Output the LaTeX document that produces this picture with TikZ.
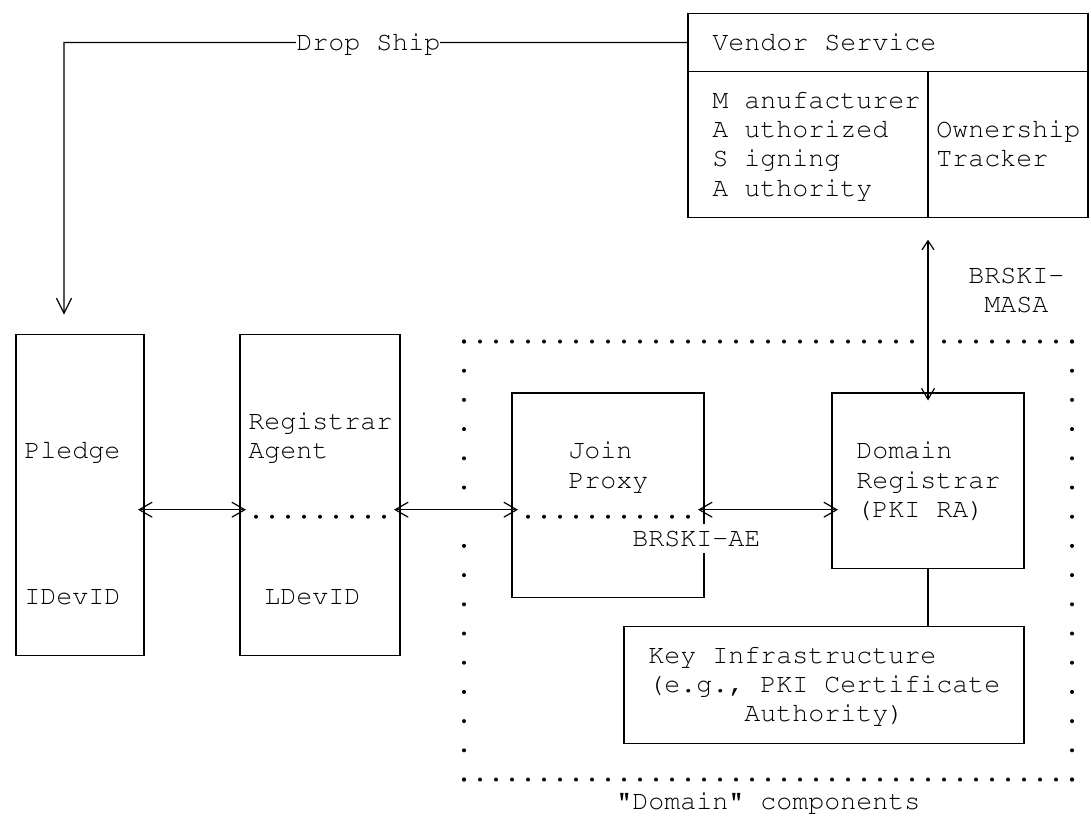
\documentclass[tikz,border=0pt]{standalone}
\usepackage[T1]{fontenc}
\usepackage{tikz}
\usetikzlibrary{arrows.meta}
\newcommand{\cfont}{\fontencoding{T1}\fontfamily{pcr}\fontseries{m}\fontshape{n}\fontsize{13.333pt}{14.6pt}\selectfont\frenchspacing}
\tikzstyle{boite} = [rectangle, draw=black, line width=0.6pt, inner sep=0pt, outer sep=0pt, anchor=north west]
\tikzstyle{mot} = [anchor=base west, inner sep=0pt, font=\cfont]
\tikzstyle{trait} = [draw=black, line width=0.6pt]
\tikzstyle{echange} = [trait, >={Straight Barb[length=6.5pt,width=7.5pt]}, <->, shorten <=-3pt, shorten >=-3pt]
\tikzstyle{pointsh} = [line width=2pt, line cap=round, dash pattern=on 0pt off 8pt]
\tikzstyle{pointsv} = [line width=2pt, line cap=round, dash pattern=on 0pt off 14.6pt]

\begin{document}
\begin{tikzpicture}[x=8pt, y=-14.6pt]
        \useasboundingbox (-1,-0.4555) rectangle (67.1875,27.558);

        % vendor service
        \node (vendor) [boite, minimum width=200pt, minimum height=29.2pt] at (42,0) {};
        \node (masa) [boite, minimum width=120pt, minimum height=73pt] at (42,2) {};
        \node (tracker) [boite, minimum width=80pt, minimum height=73pt] at (57,2) {};

        % pledge and registrar agent
        \node (pledge) [boite, minimum width=64pt, minimum height=160.6pt] at (0,11) {};
        \node (agent) [boite, minimum width=80pt, minimum height=160.6pt] at (14,11) {};

        % domain components
        \node (join) [boite, minimum width=96pt, minimum height=102.2pt] at (31,13) {};
        \node (registrar) [boite, minimum width=96pt, minimum height=87.6pt] at (51,13) {};
        \node (keyinfra) [boite, minimum width=200pt, minimum height=58.4pt] at (38,21) {};

        \draw[pointsh] (28,11.24) -- (56.05,11.24);
        \draw[pointsh] (58,11.24) -- (66.05,11.24);
        \draw[pointsh] (28,26.24) -- (66.05,26.24);
        \draw[pointsv] (28,11.24) -- (28,16.26);
        \draw[pointsv] (28,18.24) -- (28,26.26);
        \draw[pointsv] (66,11.24) -- (66,26.26);

        \coordinate (coude) at (3,1);
        \coordinate (bus) at (0,17);
        \coordinate (pts) at (0,17.24);

        \draw[trait, -{Straight Barb[length=7.5pt,width=7.5pt]}, shorten >=10pt] (vendor.west) -- (coude) -- (coude |- pledge.north);
        \draw[trait, {Straight Barb[length=4.5pt,width=6pt]}-{Straight Barb[length=5.5pt,width=6.5pt]}, shorten <=11pt, shorten >=-3.8pt] (masa.south east) -- (registrar.north);

        \draw[echange] (pledge.east |- bus) -- (agent.west |- bus);
        \draw[echange] (agent.east |- bus) -- (join.west |- bus);
        \draw[echange] (join.east |- bus) -- (registrar.west |- bus);
        \draw[pointsh, shorten <=8pt, shorten >=7.9pt] (agent.west |- pts) -- (agent.east |- pts);
        \draw[pointsh, shorten <=8pt, shorten >=7.9pt] (join.west |- pts) -- (join.east |- pts);
        \draw[trait] (registrar.south) -- (registrar.south |- keyinfra.north);

        % texts
        \node (dropship) [mot, fill=white] at (17.5,1.26) {Drop Ship};
        \node (vendorlbl) [mot] at (43.5,1.26) {Vendor Service};
        \node (masa1) [mot] at (43.5,3.26) {M anufacturer};
        \node (masa2) [mot] at (43.5,4.26) {A uthorized};
        \node (masa3) [mot] at (43.5,5.26) {S igning};
        \node (masa4) [mot] at (43.5,6.26) {A uthority};
        \node (tracker1) [mot] at (57.5,4.26) {Ownership};
        \node (tracker2) [mot] at (57.5,5.26) {Tracker};
        \node (brski1) [mot] at (59.5,9.26) {BRSKI-};
        \node (brski2) [mot] at (60.5,10.26) {MASA};

        \node (pledgelbl) [mot] at (0.5,15.26) {Pledge};
        \node (idevid) [mot] at (0.5,20.26) {IDevID};
        \node (agent1) [mot] at (14.5,14.26) {Registrar};
        \node (agent2) [mot] at (14.5,15.26) {Agent};
        \node (ldevid) [mot] at (15.5,20.26) {LDevID};

        \node (join1) [mot] at (34.5,15.26) {Join};
        \node (join2) [mot] at (34.5,16.26) {Proxy};
        \node (brskiae) [mot, fill=white, text height=11.15pt, text depth=3.45pt] at (38.5,18.26) {BRSKI-AE};
        \node (reg1) [mot] at (52.5,15.26) {Domain};
        \node (reg2) [mot] at (52.5,16.26) {Registrar};
        \node (reg3) [mot] at (52.5,17.26) {(PKI RA)};

        \node (key1) [mot] at (39.5,22.26) {Key Infrastructure};
        \node (key2) [mot] at (39.5,23.26) {(e.g., PKI Certificate};
        \node (key3) [mot] at (45.5,24.26) {Authority)};
        \node (domlbl) [mot] at (37.5,27.26) {"Domain" components};

    \end{tikzpicture}
\end{document}
